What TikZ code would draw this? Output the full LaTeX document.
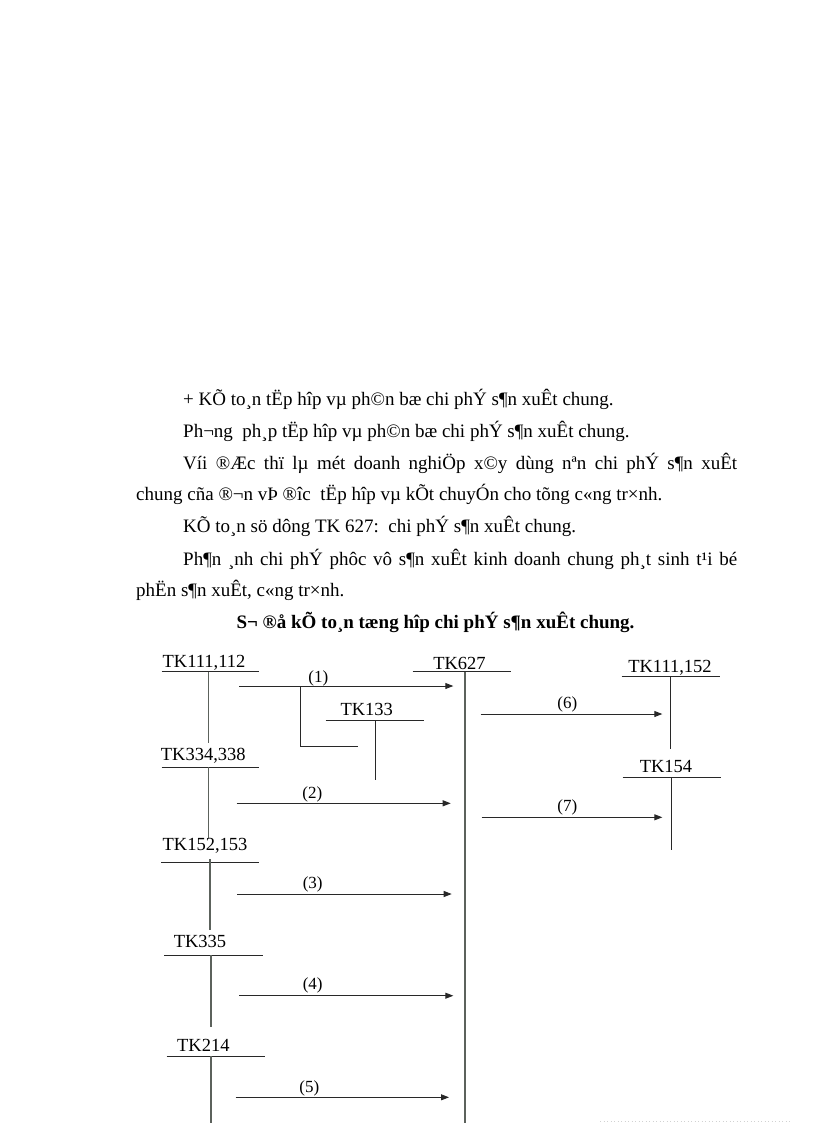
\documentclass[tikz,border=0pt]{standalone}
\usepackage{fontspec}
\setmainfont{Liberation Serif}
\usetikzlibrary{arrows.meta}
\definecolor{trunkc}{RGB}{92,98,92}
\definecolor{linec}{RGB}{40,40,40}
\tikzset{
  acct/.style={anchor=base, inner sep=0pt, font=\fontsize{18.5}{22}\selectfont},
  num/.style={anchor=base, inner sep=0pt, font=\fontsize{17}{20}\selectfont},
  body/.style={anchor=base west, inner sep=0pt, font=\fontsize{19}{23}\selectfont},
  titl/.style={anchor=base, inner sep=0pt, font=\fontsize{19}{23}\selectfont\bfseries},
  uline/.style={draw=linec, line width=0.9pt},
  trunk/.style={draw=trunkc, line width=1.5pt},
  flow/.style={draw=linec, line width=0.9pt, -{Triangle[length=8pt,width=6pt]}},
  branch/.style={draw=linec, line width=0.9pt},
}
\begin{document}
\begin{tikzpicture}[x=1pt,y=-1pt]
\useasboundingbox[fill=white] (0,0) rectangle (816,1123);

% ---- body text ----
\node[body] (t1) at (183,405) {+ KÕ to¸n tËp hîp vµ ph©n bæ chi phÝ s¶n xuÊt chung.};
\node[body] (t2) at (183,437) {Ph¬ng\ \ ph¸p tËp hîp vµ ph©n bæ chi phÝ s¶n xuÊt chung.};
\node[body] (t3) at (183,469) {\makebox[554pt][s]{Víi ®Æc thï lµ mét doanh nghiÖp x©y dùng nªn chi phÝ s¶n xuÊt}};
\node[body] (t4) at (136,500.5) {chung cña ®¬n vÞ ®îc\ \ tËp hîp vµ kÕt chuyÓn cho tõng c«ng tr×nh.};
\node[body] (t5) at (183,532.5) {KÕ to¸n sö dông TK 627:\ \ chi phÝ s¶n xuÊt chung.};
\node[body] (t6) at (183,565) {\makebox[554pt][s]{Ph¶n ¸nh chi phÝ phôc vô s¶n xuÊt kinh doanh chung ph¸t sinh t¹i bé}};
\node[body] (t7) at (136,596) {phËn s¶n xuÊt, c«ng tr×nh.};
\node[titl] (t8) at (435.5,628) {S¬ ®å kÕ to¸n tæng hîp chi phÝ s¶n xuÊt chung.};

% ---- T-accounts ----
% TK111,112
\node[acct] (a1) at (204,667.5) {TK111,112};
\coordinate (a1L) at (161.7,671.5); \coordinate (a1R) at (259,671.5);
\coordinate (a1T) at (208.3,671.5); \coordinate (a1B) at (208.3,743.3);
\draw[uline] (a1L) -- (a1R);
\draw[trunk] (a1T) -- (a1B);

% TK627
\node[acct] (a627) at (459.5,669) {TK627};
\coordinate (a627L) at (412.7,671.7); \coordinate (a627R) at (510.7,671.7);
\coordinate (a627T) at (464.8,671.7); \coordinate (a627B) at (464.8,1123);
\draw[uline] (a627L) -- (a627R);
\draw[trunk] (a627T) -- (a627B);

% TK133
\node[acct] (a133) at (366.7,715) {TK133};
\coordinate (a133L) at (325.7,720); \coordinate (a133R) at (424.3,720);
\coordinate (a133T) at (375,720); \coordinate (a133B) at (375,780);
\draw[uline] (a133L) -- (a133R);
\draw[branch] (a133T) -- (a133B);

% TK334,338
\node[acct] (a334) at (203.3,760) {TK334,338};
\coordinate (a334L) at (161.7,767); \coordinate (a334R) at (259,767);
\coordinate (a334T) at (208.3,767); \coordinate (a334B) at (208.3,838.3);
\draw[uline] (a334L) -- (a334R);
\draw[trunk] (a334T) -- (a334B);

% TK111,152
\node[acct] (a1152) at (670,672) {TK111,152};
\coordinate (a1152L) at (621.7,676.7); \coordinate (a1152R) at (720,676.7);
\coordinate (a1152T) at (670,676.7); \coordinate (a1152B) at (670,749.3);
\draw[uline] (a1152L) -- (a1152R);
\draw[branch] (a1152T) -- (a1152B);

% TK154
\node[acct] (a154) at (666,772.5) {TK154};
\coordinate (a154L) at (622.7,777.7); \coordinate (a154R) at (721,777.7);
\coordinate (a154T) at (671.7,777.7); \coordinate (a154B) at (671.7,850);
\draw[uline] (a154L) -- (a154R);
\draw[branch] (a154T) -- (a154B);

% TK152,153
\node[acct] (a152) at (205,850.5) {TK152,153};
\coordinate (a152L) at (161,862.7); \coordinate (a152R) at (259.3,862.7);
\coordinate (a152T) at (210,859); \coordinate (a152B) at (210,930);
\draw[uline] (a152L) -- (a152R);
\draw[trunk] (a152T) -- (a152B);

% TK335
\node[acct] (a335) at (200,947.5) {TK335};
\coordinate (a335L) at (164.3,955); \coordinate (a335R) at (262.7,955);
\coordinate (a335T) at (211,955); \coordinate (a335B) at (211,1026.7);
\draw[uline] (a335L) -- (a335R);
\draw[trunk] (a335T) -- (a335B);

% TK214
\node[acct] (a214) at (203.3,1051) {TK214};
\coordinate (a214L) at (166.7,1056); \coordinate (a214R) at (265,1056);
\coordinate (a214T) at (211,1056); \coordinate (a214B) at (211,1123);
\draw[uline] (a214L) -- (a214R);
\draw[trunk] (a214T) -- (a214B);

% ---- flows ----
\coordinate (f1s) at (239.3,686);   \coordinate (f1e) at (453.3,686);
\draw[flow] (f1s) -- (f1e);
\node[num] (n1) at (318.3,682) {(1)};
\coordinate (b1s) at (300.7,686);   \coordinate (b1e) at (358.3,746);
\draw[branch] (b1s) |- (b1e);

\coordinate (f2s) at (236.7,803.3); \coordinate (f2e) at (450.7,803.3);
\draw[flow] (f2s) -- (f2e);
\node[num] (n2) at (312.3,798.7) {(2)};

\coordinate (f3s) at (237.3,894);   \coordinate (f3e) at (451.7,894);
\draw[flow] (f3s) -- (f3e);
\node[num] (n3) at (312.7,888.7) {(3)};

\coordinate (f4s) at (239.3,995.7); \coordinate (f4e) at (453.3,995.7);
\draw[flow] (f4s) -- (f4e);
\node[num] (n4) at (312.7,989.7) {(4)};

\coordinate (f5s) at (235.7,1097.3); \coordinate (f5e) at (449,1097.3);
\draw[flow] (f5s) -- (f5e);
\node[num] (n5) at (309.3,1092) {(5)};

\coordinate (f6s) at (480.7,714);   \coordinate (f6e) at (662.3,714);
\draw[flow] (f6s) -- (f6e);
\node[num] (n6) at (567.3,708.7) {(6)};

\coordinate (f7s) at (481.7,817.3); \coordinate (f7e) at (662.3,817.3);
\draw[flow] (f7s) -- (f7e);
\node[num] (n7) at (567.3,811) {(7)};

% faint dotted edge at the bottom
\coordinate (d1) at (600,1121.8); \coordinate (d2) at (790,1121.8);
\draw[gray!35, line width=0.8pt, dash pattern=on 1pt off 2.5pt] (d1) -- (d2);
\end{tikzpicture}
\end{document}
